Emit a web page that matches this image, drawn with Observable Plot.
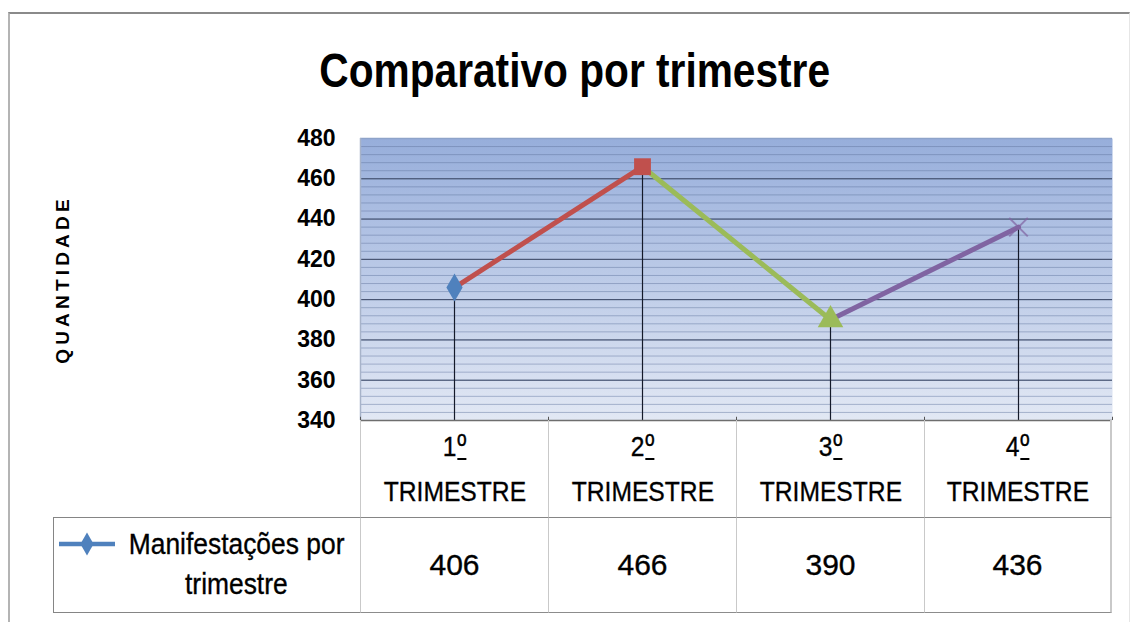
<!DOCTYPE html>
<html>
<head>
<meta charset="utf-8">
<script src="https://cdn.jsdelivr.net/npm/d3@7"></script>
<script src="https://cdn.jsdelivr.net/npm/@observablehq/plot@0.6"></script>
<style>
  html, body { margin: 0; padding: 0; background: #fff; }
  body { width: 1134px; height: 622px; overflow: hidden; position: relative;
         font-family: "Liberation Sans", Arial, sans-serif; color: #000; }
  #frame { position: absolute; left: 8px; top: 12px; width: 1119px; height: 640px;
           border-top: 2px solid #8a8a8a; border-left: 2px solid #b4b4b4; border-right: 1px solid #e6e6e6; }
  #title { position: absolute; left: 8px; width: 1134px; top: 46px; text-align: center;
           font-weight: bold; font-size: 49px; line-height: 1; white-space: nowrap; }
  #title span { display: inline-block; transform: scaleX(0.83); }
  #chart { position: absolute; left: 0; top: 100px; }
  .cell { position: absolute; box-sizing: border-box; display: flex; flex-direction: column;
          align-items: center; justify-content: center; text-align: center; white-space: nowrap;
          -webkit-text-stroke: 0.35px #000; }
  .cat { font-size: 28px; line-height: 45px; }
  .cat span, .leg span { display: inline-block; transform: scaleX(0.88); }
  .ord { text-decoration: underline; text-decoration-thickness: 2px; text-underline-offset: 2px; font-size: 32px; }
  .val { font-size: 30px; }
  .leg { font-size: 30px; line-height: 40px; }
</style>
</head>
<body>
<div id="frame"></div>
<div id="title"></div>
<div id="chart"></div>
<div id="table"></div>
<script>
// ---- data ----
const title = "Comparativo por trimestre";
const yLabel = "QUANTIDADE";
const seriesName = ["Manifestações por", "trimestre"];
const ordinals = ["1", "2", "3", "4"];
const ordSuffix = "º";
const categories = ["TRIMESTRE", "TRIMESTRE", "TRIMESTRE", "TRIMESTRE"];
const values = [406, 466, 390, 436];
const yTicks = [340, 360, 380, 400, 420, 440, 460, 480];
const minorStep = 4;

// ---- styles ----
const symbols = ["diamond", "square", "triangle", "times"];
const colors = ["#4f81bd", "#c0504d", "#9bbb59", "#8064a2"];
const sizes = [8.5, 9.5, 9.5, 8.5];

document.getElementById("title").innerHTML = `<span>${title}</span>`;

const n = values.length;
const points = values.map((v, i) => ({x: i + 0.5, v, symbol: symbols[i], color: colors[i], r: sizes[i]}));
const segments = d3.pairs(points).map(([a, b]) => ({x1: a.x, y1: a.v, x2: b.x, y2: b.v, color: b.color}));
const yMin = yTicks[0], yMax = yTicks[yTicks.length - 1];
const minor = d3.range(yMin, yMax + 0.001, minorStep);
const bounds = d3.range(0, n + 1);

const H = 322, MB = 2, TOP = 100;
const plot = Plot.plot({
  width: 1134, height: H,
  marginTop: 38, marginBottom: MB, marginLeft: 360, marginRight: 22,
  x: {type: "linear", domain: [0, n], axis: null},
  y: {domain: [yMin, yMax], axis: null},
  r: {type: "identity"},
  style: {background: "transparent", overflow: "visible", fontFamily: '"Liberation Sans", Arial, sans-serif', color: "#000"},
  marks: [
    Plot.frame({fill: "url(#bgGrad)", stroke: "none"}),
    Plot.ruleY(minor, {y: d => d, stroke: "#5d719c", strokeOpacity: 0.45, strokeWidth: 1}),
    Plot.ruleY(yTicks, {y: d => d, stroke: "#3b4865", strokeWidth: 1}),
    Plot.ruleY([yMax], {y: d => d, stroke: "#8ea3c9", strokeWidth: 1.5}),
    Plot.ruleX([0], {x: d => d, stroke: "#a7b3c9", strokeWidth: 1.5}),
    Plot.ruleX(points, {x: "x", y1: yMin, y2: "v", stroke: "#141a2a", strokeWidth: 1.2}),
    Plot.ruleY([yMin], {y: d => d, stroke: "#6e6e6e", strokeWidth: 1.5}),
    Plot.ruleX(bounds, {x: d => d, y1: yMin, y2: yMin + 1.6, stroke: "#555", strokeWidth: 1}),
    Plot.link(segments, {x1: "x1", y1: "y1", x2: "x2", y2: "y2", stroke: d => d.color,
      strokeWidth: 5, strokeLinecap: "round"}),
    Plot.dot(points.filter(d => d.symbol !== "times"), {x: "x", y: "v", symbol: "symbol",
      fill: d => d.color, r: "r", stroke: "none"}),
    Plot.dot(points.filter(d => d.symbol === "times"), {x: "x", y: "v", symbol: "symbol",
      stroke: d => d.color, r: "r", strokeWidth: 2, strokeOpacity: 0.7}),
    Plot.text(yTicks, {y: d => d, text: d => String(d), frameAnchor: "left", dx: -25, textAnchor: "end",
      fontSize: 23, fontWeight: "bold", fill: "#000"}),
    Plot.text([yLabel], {text: d => d, frameAnchor: "left", dx: -298, rotate: -90, textAnchor: "middle",
      fontSize: 19, fontWeight: "bold", fill: "#000"})
  ]
});

// gradient background
const defs = d3.select(plot).insert("defs", ":first-child");
const g = defs.append("linearGradient").attr("id", "bgGrad").attr("x1", 0).attr("y1", 0).attr("x2", 0).attr("y2", 1);
g.append("stop").attr("offset", "0%").attr("stop-color", "#97aedb");
g.append("stop").attr("offset", "100%").attr("stop-color", "#e2e8f4");
d3.select(plot).selectAll("text").filter(function() { return this.textContent === yLabel; })
  .attr("letter-spacing", 4.2);

document.getElementById("chart").appendChild(plot);

// ---- data table below the plot (uses the plot's x scale) ----
const xs = plot.scale("x");
const table = d3.select("#table");
const rowTop = TOP + H - MB;
const row1H = 97, row2H = 96;
const legendLeft = 53;

for (let i = 0; i < n; i++) {
  const x0 = xs.apply(i), x1 = xs.apply(i + 1);
  table.append("div").attr("class", "cell cat")
    .style("left", x0 + "px").style("top", rowTop + "px")
    .style("width", (x1 - x0) + "px").style("height", row1H + "px")
    .style("border-left", "1.5px solid #c9c9c9")
    .style("border-right", i === n - 1 ? "2px solid #c9c9c9" : "none")
    .html(`<span>${ordinals[i]}<span class="ord">${ordSuffix}</span></span><span>${categories[i]}</span>`);
  table.append("div").attr("class", "cell val")
    .style("left", x0 + "px").style("top", (rowTop + row1H) + "px")
    .style("width", (x1 - x0) + "px").style("height", row2H + "px")
    .style("border-left", "1.5px solid #c9c9c9")
    .style("border-right", i === n - 1 ? "2px solid #c9c9c9" : "none")
    .style("border-top", "1.5px solid #858585")
    .style("border-bottom", "1.5px solid #8c8c8c")
    .text(values[i]);
}
// legend cell
const lx1 = xs.apply(0);
const leg = table.append("div").attr("class", "cell leg")
  .style("left", legendLeft + "px").style("top", (rowTop + row1H) + "px")
  .style("width", (lx1 - legendLeft) + "px").style("height", row2H + "px")
  .style("border", "1.5px solid #858585").style("border-right", "none");
const key = leg.append("svg").attr("width", 60).attr("height", 30)
  .style("position", "absolute").style("left", "3px").style("top", "12px");
key.append("line").attr("x1", 2).attr("x2", 58).attr("y1", 14).attr("y2", 14)
  .attr("stroke", colors[0]).attr("stroke-width", 4.5);
key.append("path").attr("d", d3.symbol(d3.symbolDiamond, 150)()).attr("transform", "translate(30,14)")
  .attr("fill", colors[0]);
leg.append("div").style("position", "absolute").style("left", "58px").style("top", "6px")
  .style("width", (lx1 - legendLeft - 58) + "px").style("text-align", "center")
  .style("display", "flex").style("flex-direction", "column").style("align-items", "center")
  .html(`<span>${seriesName[0]}</span><span>${seriesName[1]}</span>`);
</script>
</body>
</html>
